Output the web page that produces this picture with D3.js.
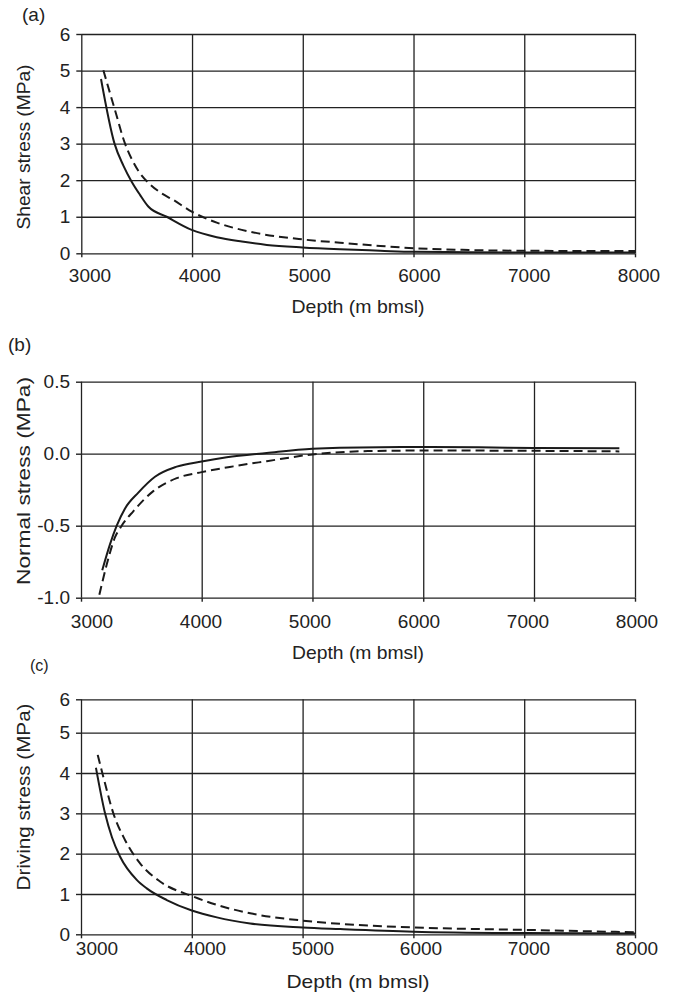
<!DOCTYPE html>
<html>
<head>
<meta charset="utf-8">
<script src="https://cdn.jsdelivr.net/npm/d3@7"></script>
<style>
  body { margin: 0; background: #fff; }
  svg { display: block; font-family: "Liberation Sans", Arial, sans-serif; }
  .grid line { stroke: #222; stroke-width: 1.3; }
  .grid path { display: none; }
  .axis path { display: none; }
  .axis line { stroke: #222; stroke-width: 1.4; }
  .axis text { fill: #222; font-size: 19px; }
  .xlab { fill: #222; font-size: 19px; }
</style>
</head>
<body>
<div id="chart"></div>
<script>
// x ticks (Depth, m bmsl)
const depthTicks = [3000, 4000, 5000, 6000, 7000, 8000];

// (a) shear stress
const aDepthSolid = [3178, 3300, 3380, 3455, 3530, 3605, 3771, 3997, 4223, 4450, 4675, 4997, 5337, 5700, 6000, 6500, 7000, 8000];
const aSolid = [4.77, 3.0, 2.4, 1.96, 1.6, 1.28, 1.0, 0.64, 0.44, 0.32, 0.23, 0.16, 0.11, 0.07, 0.04, 0.03, 0.02, 0.02];
const aDepthDashed = [3199, 3304, 3395, 3460, 3530, 3620, 3720, 3831, 3997, 4223, 4524, 4997, 5337, 5700, 6000, 6500, 7000, 8000];
const aDashed = [5.01, 3.92, 3.0, 2.55, 2.19, 1.89, 1.65, 1.46, 1.14, 0.84, 0.59, 0.38, 0.29, 0.2, 0.14, 0.09, 0.07, 0.06];
const aTicks = [0, 1, 2, 3, 4, 5, 6];

// (b) normal stress
const bDepthSolid = [3176, 3240, 3296, 3365, 3475, 3613, 3793, 4000, 4226, 4587, 5000, 5245, 5800, 6500, 7000, 7845];
const bSolid = [-0.81, -0.63, -0.50, -0.38, -0.27, -0.16, -0.09, -0.054, -0.025, 0.005, 0.035, 0.042, 0.046, 0.044, 0.04, 0.037];
const bDepthDashed = [3152, 3213, 3282, 3337, 3433, 3599, 3793, 4000, 4285, 4587, 5000, 5500, 6000, 7000, 7845];
const bDashed = [-0.98, -0.77, -0.58, -0.50, -0.40, -0.26, -0.17, -0.128, -0.088, -0.052, -0.005, 0.018, 0.022, 0.02, 0.016];
const bTicks = [-1.0, -0.5, 0.0, 0.5];

// (c) driving stress
const cDepthSolid = [3135, 3217, 3280, 3352, 3503, 3593, 3774, 4000, 4226, 4527, 5000, 5339, 6000, 7000, 8000];
const cSolid = [4.13, 3.0, 2.4, 1.93, 1.35, 1.14, 0.85, 0.59, 0.42, 0.27, 0.17, 0.13, 0.065, 0.03, 0.02];
const cDepthDashed = [3151, 3201, 3292, 3397, 3533, 3713, 4000, 4226, 4527, 5000, 5339, 6000, 7000, 8000];
const cDashed = [4.45, 3.91, 3.0, 2.34, 1.76, 1.31, 0.95, 0.73, 0.52, 0.34, 0.26, 0.17, 0.11, 0.05];
const cTicks = [0, 1, 2, 3, 4, 5, 6];

const width = 676, height = 992;
const svg = d3.select("#chart").append("svg")
    .attr("width", width)
    .attr("height", height);

const zip = (xs, ys) => xs.map((x, i) => [x, ys[i]]);

const panels = [
    {
        letter: "(a)", letterPos: [22, 21], letterSize: 19,
        x: d3.scaleLinear().domain([3000, 8000]).range([81.3, 635]),
        xLab: d3.scaleLinear().domain([3000, 8000]).range([90, 639]),
        y: d3.scaleLinear().domain([0, 6]).range([253.3, 34]),
        yTicks: aTicks, yFmt: d => d,
        yLabel: "Shear stress (MPa)", yLabelLen: 165, yLabelY: 147,
        xLabelY: 313, xLabelLen: 133, xTickY: 282,
        solid: zip(aDepthSolid, aSolid), dashed: zip(aDepthDashed, aDashed)
    },
    {
        letter: "(b)", letterPos: [8, 351], letterSize: 19,
        x: d3.scaleLinear().domain([3000, 4000, 7000, 8000]).range([81, 201.7, 534, 635]),
        xLab: d3.scaleLinear().domain([3000, 8000]).range([92, 637]),
        y: d3.scaleLinear().domain([-1, 0.5]).range([597.7, 381.7]),
        yTicks: bTicks, yFmt: d => d.toFixed(1),
        yLabel: "Normal stress (MPa)", yLabelLen: 208, yLabelY: 481,
        xLabelY: 659, xLabelLen: 132, xTickY: 628,
        solid: zip(bDepthSolid, bSolid), dashed: zip(bDepthDashed, bDashed)
    },
    {
        letter: "(c)", letterPos: [30, 671], letterSize: 16,
        x: d3.scaleLinear().domain([3000, 8000]).range([81, 635]),
        xLab: d3.scaleLinear().domain([3000, 8000]).range([97, 637]),
        y: d3.scaleLinear().domain([0, 5, 6]).range([934.3, 732.7, 699.3]),
        yTicks: cTicks, yFmt: d => d,
        yLabel: "Driving stress (MPa)", yLabelLen: 187, yLabelY: 797,
        xLabelY: 988, xLabelLen: 143, xTickY: 955,
        solid: zip(cDepthSolid, cSolid), dashed: zip(cDepthDashed, cDashed)
    }
];

panels.forEach(p => {
    const xr = p.x.range(), yr = p.y.range();
    const x0 = xr[0], x1 = xr[xr.length - 1];
    const yb = yr[0], yt = yr[yr.length - 1];
    const g = svg.append("g");

    // gridlines
    g.append("g").attr("class", "grid")
        .attr("transform", `translate(0,${yb})`)
        .call(d3.axisBottom(p.x).tickValues(depthTicks).tickSize(-(yb - yt)).tickFormat(""));
    g.append("g").attr("class", "grid")
        .attr("transform", `translate(${x0},0)`)
        .call(d3.axisLeft(p.y).tickValues(p.yTicks).tickSize(-(x1 - x0)).tickFormat(""));

    // axes: small tick marks
    g.append("g").attr("class", "axis")
        .attr("transform", `translate(0,${yb})`)
        .call(d3.axisBottom(p.x).tickValues(depthTicks).tickSize(4).tickFormat(""));

    g.append("g").attr("class", "axis")
        .attr("transform", `translate(${x0},0)`)
        .call(d3.axisLeft(p.y).tickValues(p.yTicks).tickSize(5).tickPadding(6).tickFormat(p.yFmt));

    // x tick labels
    g.append("g").selectAll("text")
        .data(depthTicks)
        .join("text")
        .attr("class", "xlab")
        .attr("x", d => p.xLab(d))
        .attr("y", p.xTickY)
        .attr("text-anchor", "middle")
        .text(d => d);

    // curves
    const line = d3.line()
        .x(d => p.x(d[0]))
        .y(d => p.y(d[1]))
        .curve(d3.curveMonotoneX);

    g.append("path")
        .datum(p.dashed)
        .attr("fill", "none")
        .attr("stroke", "#1a1a1a")
        .attr("stroke-width", 2)
        .attr("stroke-dasharray", "9,5")
        .attr("d", line);

    g.append("path")
        .datum(p.solid)
        .attr("fill", "none")
        .attr("stroke", "#1a1a1a")
        .attr("stroke-width", 2)
        .attr("d", line);

    // labels
    g.append("text")
        .attr("x", p.letterPos[0])
        .attr("y", p.letterPos[1])
        .attr("font-size", p.letterSize)
        .attr("fill", "#222")
        .text(p.letter);

    g.append("text")
        .attr("x", 358)
        .attr("y", p.xLabelY)
        .attr("text-anchor", "middle")
        .attr("font-size", 19)
        .attr("fill", "#222")
        .attr("textLength", p.xLabelLen)
        .attr("lengthAdjust", "spacingAndGlyphs")
        .text("Depth (m bmsl)");

    g.append("text")
        .attr("transform", `translate(30,${p.yLabelY}) rotate(-90)`)
        .attr("text-anchor", "middle")
        .attr("font-size", 19)
        .attr("fill", "#222")
        .attr("textLength", p.yLabelLen)
        .attr("lengthAdjust", "spacingAndGlyphs")
        .text(p.yLabel);
});
</script>
</body>
</html>
